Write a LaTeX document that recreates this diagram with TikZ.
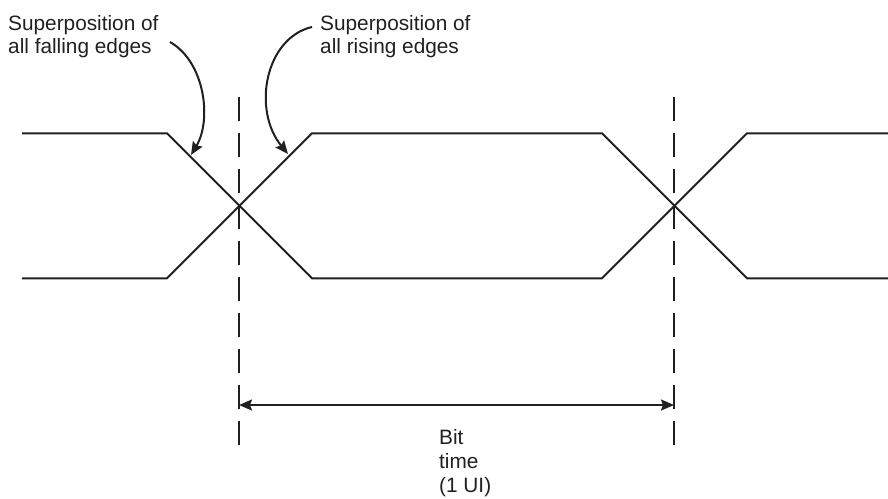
\documentclass[tikz,border=0pt]{standalone}
\usepackage{fontspec}
\setmainfont{Liberation Sans}
\usetikzlibrary{arrows.meta}
\definecolor{ink}{HTML}{231F20}
\tikzset{
  sig/.style={draw=ink, line width=2pt, line join=miter},
  guide/.style={draw=ink, line width=2pt, dash pattern=on 24pt off 12pt},
  callout/.style={draw=ink, line width=2pt, -{Stealth[length=13pt,width=11pt,inset=2pt]}},
  dim/.style={draw=ink, line width=2pt, {Stealth[length=13pt,width=11pt,inset=2pt]}-{Stealth[length=13pt,width=11pt,inset=2pt]}},
  lbl/.style={text=ink, inner sep=0pt, align=left},
}
\begin{document}
\begin{tikzpicture}[x=1pt, y=-1pt]
\useasboundingbox (0,0) rectangle (888,498);
% waveform key points
\coordinate (hl) at (22,133.3);
\coordinate (ll) at (22,278.3);
\coordinate (a1) at (167,133.3);
\coordinate (a2) at (167,278.3);
\coordinate (b1) at (312,278.3);
\coordinate (b2) at (312,133.3);
\coordinate (c1) at (602,278.3);
\coordinate (c2) at (602,133.3);
\coordinate (d1) at (747,133.3);
\coordinate (d2) at (747,278.3);
\coordinate (hr) at (888,133.3);
\coordinate (lr) at (888,278.3);
\draw[sig] (hl) -- (a1) -- (b1) -- (c1) -- (d1) -- (hr);
\draw[sig] (ll) -- (a2) -- (b2) -- (c2) -- (d2) -- (lr);
% dashed guides
\coordinate (g1t) at (239,97);
\coordinate (g1b) at (239,446);
\coordinate (g2t) at (674,97);
\coordinate (g2b) at (674,446);
\draw[guide] (g1t) -- (g1b);
\draw[guide] (g2t) -- (g2b);
% dimension arrow
\coordinate (m1) at (239,405);
\coordinate (m2) at (674,405);
\draw[dim] (m1) -- (m2);
% labels (base anchor = baseline of last line)
\node[lbl, anchor=base west, font=\fontsize{20.8}{22.3}\selectfont] (fall) at (8,53) {Superposition of\\all falling edges};
\node[lbl, anchor=base west, font=\fontsize{20.8}{22.3}\selectfont] (rise) at (320,53) {Superposition of\\all rising edges};
\node[lbl, anchor=base west, font=\fontsize{20.8}{24}\selectfont] (bit) at (439,492) {Bit\\time\\(1 UI)};
% callouts
\coordinate (fs) at (170,42);
\coordinate (ft) at (191,155);
\coordinate (rs) at (312,27);
\coordinate (rt) at (288,154);
\draw[callout] (fs) .. controls (205,62) and (212,120) .. (ft);
\draw[callout] (rs) .. controls (265,38) and (252,110) .. (rt);
\end{tikzpicture}
\end{document}
